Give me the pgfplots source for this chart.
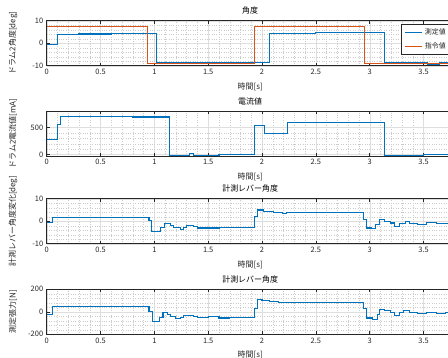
\documentclass[border=0pt]{standalone}
\usepackage{fontspec}
\setmainfont{Noto Sans CJK JP}
\usepackage{pgfplots}
\pgfplotsset{compat=1.18}
\definecolor{mblue}{rgb}{0,0.447,0.741}
\definecolor{morange}{rgb}{0.85,0.325,0.098}
\definecolor{axgray}{gray}{0.15}
\pgfplotsset{
 every axis title/.style={at={(0.5,1)}, anchor=base, yshift=7bp, inner sep=0pt, font=\fontsize{8}{9}\selectfont},
 myax/.style={
  scale only axis, width=407bp, height=45bp,
  xmin=0, xmax=3.78,
  xtick={0,0.5,1,1.5,2,2.5,3,3.5},
  xticklabels={0,0.5,1,1.5,2,2.5,3,3.5},
  minor x tick num=4, minor y tick num=4,
  grid=both,
  major grid style={color=black!13, line width=0.4pt},
  minor grid style={color=black!20, dotted, line width=0.4pt},
  tick align=inside, major tick length=3bp, minor tick length=0pt,
  axis line style={axgray, line width=0.5pt},
  tick style={axgray, line width=0.5pt},
  ticklabel style={font=\fontsize{7.5}{8}\selectfont, text=axgray},
  /pgf/number format/assume math mode=true,
  label style={font=\fontsize{8}{9}\selectfont, text=axgray},
  xlabel={時間[s]},
  xlabel style={at={(axis description cs:0.5,0)}, anchor=base, yshift=-23.5bp, inner sep=0pt},
  ylabel style={at={(axis description cs:-0.083,0.5)}, anchor=center},
  every axis plot/.append style={line width=1.1pt, const plot, mark=none},
 }
}
\begin{document}
\begin{tikzpicture}
% Panel 1
\begin{axis}[myax, at={(46.7bp,-65.7bp)}, anchor=south west,
  title={角度}, ylabel={ドラム2角度[deg]},
  ymin=-10, ymax=10, ytick={-10,0,10},
  legend style={at={(rel axis cs:0.995,0.92)}, anchor=north east, font=\fontsize{7}{8}\selectfont, text=axgray, draw=axgray, line width=0.6pt, inner xsep=3.5pt, inner ysep=2.5pt, row sep=2pt},
  legend cell align=left]
\addplot[mblue] coordinates {(0,-0.4)(0.1,4.0)(0.3,4.1)(0.6,4.2)(0.9,4.3)(1.02,-8.4)(1.08,-8.7)(1.5,-8.7)(2.07,4.4)(2.5,4.6)(3.14,-8.8)(3.54,-9.4)(3.65,-8.8)(3.78,-8.8)};
\addlegendentry{測定値}
\addplot[morange] coordinates {(0,7.5)(0.94,-8.9)(1.93,7.5)(2.95,-8.9)(3.78,-8.9)};
\addlegendentry{指令値}
\end{axis}
% Panel 2
\begin{axis}[myax, at={(46.7bp,-156bp)}, anchor=south west,
  title={電流値}, ylabel={ドラム2電流値[mA]},
  ymin=-25, ymax=800, ytick={0,500}]
\addplot[mblue] coordinates {(0,280)(0.1,560)(0.13,700)(0.4,695)(0.8,690)(1.14,-10)(1.33,15)(1.36,-10)(1.6,-5)(1.93,530)(2.02,385)(2.24,590)(2.5,592)(2.8,585)(3.14,-10)(3.5,-5)(3.78,-5)};
\end{axis}
% Panel 3
\begin{axis}[myax, at={(46.7bp,-243.7bp)}, anchor=south west,
  title={計測レバー角度}, ylabel={計測レバー角度変化[deg]},
  ymin=-10, ymax=10, ytick={-10,0,10}]
\addplot[mblue] coordinates {(0,-0.5)(0.05,1.7)(0.95,0.2)(0.97,-4.5)(1.06,-2.8)(1.09,-0.9)(1.15,-1.8)(1.18,-2.7)(1.24,-3.7)(1.27,-2.7)(1.30,-1.9)(1.36,-2.5)(1.40,-3.0)(1.6,-2.7)(1.75,-2.9)(1.93,2.2)(1.96,5.0)(2.01,4.5)(2.11,4.0)(2.19,3.4)(2.23,4.0)(2.94,0.7)(2.97,-3.0)(3.02,-3.4)(3.05,-1.5)(3.09,0.6)(3.14,0.0)(3.19,-0.8)(3.23,-2.2)(3.28,-1.2)(3.33,0.0)(3.37,-1.0)(3.44,-1.5)(3.53,-0.6)(3.62,-0.9)(3.78,-0.9)};
\end{axis}
% Panel 4
\begin{axis}[myax, at={(46.7bp,-334.3bp)}, anchor=south west,
  title={計測レバー角度}, ylabel={測定張力[N]},
  ymin=-200, ymax=200, ytick={-200,0,200}]
\addplot[mblue] coordinates {(0,-20)(0.05,45)(0.95,0)(0.98,-85)(1.05,-50)(1.08,-10)(1.12,-20)(1.15,-40)(1.2,-60)(1.24,-50)(1.27,-35)(1.32,-30)(1.36,-45)(1.4,-50)(1.5,-45)(1.6,-55)(1.7,-50)(1.93,30)(1.96,110)(2.0,100)(2.07,95)(2.15,80)(2.2,85)(2.94,30)(2.97,-55)(3.03,-65)(3.07,-25)(3.09,20)(3.14,10)(3.19,-5)(3.23,-30)(3.28,-10)(3.31,15)(3.37,-10)(3.44,-15)(3.53,-5)(3.62,-15)(3.7,-5)(3.78,-5)};
\end{axis}
\pgfresetboundingbox
\path[use as bounding box] (0,0) rectangle (448bp,-358bp);
\end{tikzpicture}
\end{document}
